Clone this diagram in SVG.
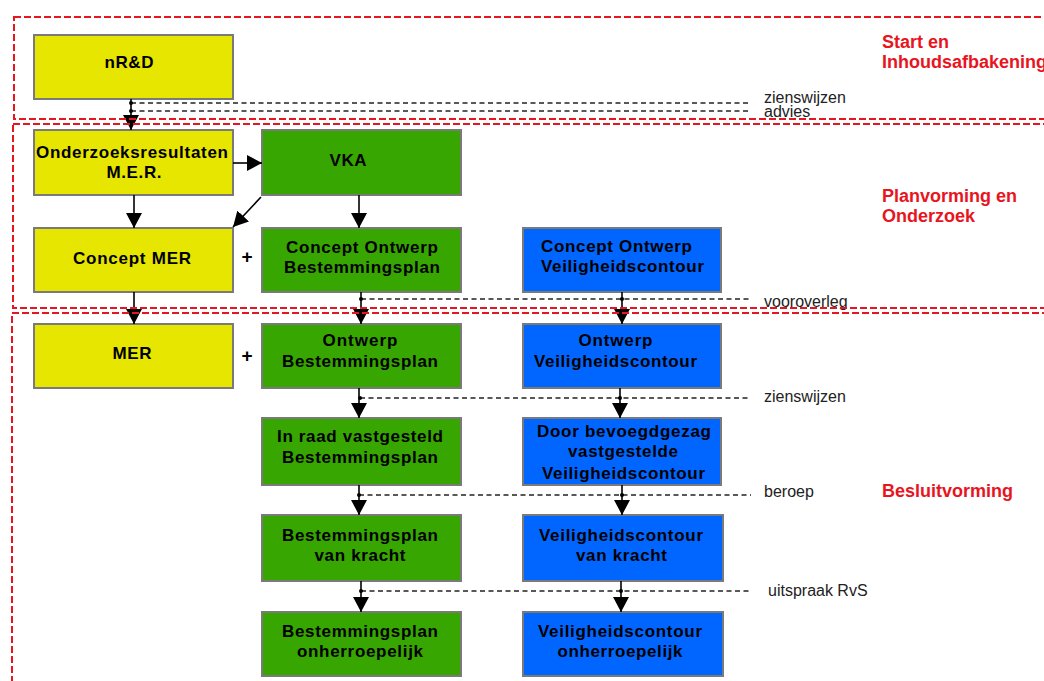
<svg xmlns="http://www.w3.org/2000/svg" width="1044" height="681" viewBox="0 0 1044 681">
<style>
.y{fill:#E6E600;stroke:#7a7a7a;stroke-width:2}
.g{fill:#37A600;stroke:#7a7a7a;stroke-width:2}
.b{fill:#0066FF;stroke:#7a7a7a;stroke-width:2}
.t{font-family:"Liberation Sans",Arial,sans-serif;font-weight:bold;font-size:17px;fill:#000;text-anchor:middle}
.lbl{font-family:"Liberation Sans",Arial,sans-serif;font-size:16px;fill:#222}
.sec{font-family:"Liberation Sans",Arial,sans-serif;font-weight:bold;font-size:18px;fill:#E8141E}
.arr{stroke:#000;stroke-width:1.6;fill:none;marker-end:url(#ah)}
.dsh{stroke:#222;stroke-width:1.3;stroke-dasharray:5,3.5;fill:none}
.red{fill:none;stroke:#E8141E;stroke-width:2;stroke-dasharray:7,3}
.dot{fill:#000}
</style>
<defs>
<marker id="ah" markerUnits="userSpaceOnUse" markerWidth="16" markerHeight="16" refX="15" refY="8" orient="auto">
<path d="M0,0 L15,8 L0,16 z" fill="#000"/>
</marker>
</defs>

<g id="n-nrd"><rect class="y" x="34" y="35" width="199" height="64"/><text class="t" x="129" y="68" textLength="49" lengthAdjust="spacing">nR&amp;D</text></g>
<g id="n-onderzoek"><rect class="y" x="34" y="130" width="199" height="65"/><text class="t" x="132" y="158" textLength="192" lengthAdjust="spacing">Onderzoeksresultaten</text><text class="t" x="134" y="178" textLength="55" lengthAdjust="spacing">M.E.R.</text></g>
<g id="n-vka"><rect class="g" x="262" y="130" width="199" height="65"/><text class="t" x="348" y="166" textLength="37" lengthAdjust="spacing">VKA</text></g>
<g id="n-cmer"><rect class="y" x="34" y="228" width="199" height="64"/><text class="t" x="132" y="264" textLength="118" lengthAdjust="spacing">Concept MER</text></g>
<g id="n-cobp"><rect class="g" x="262" y="228" width="199" height="64"/><text class="t" x="362" y="253" textLength="152" lengthAdjust="spacing">Concept Ontwerp</text><text class="t" x="362" y="273" textLength="156" lengthAdjust="spacing">Bestemmingsplan</text></g>
<g id="n-covc"><rect class="b" x="523" y="228" width="198" height="64"/><text class="t" x="541" y="252" style="text-anchor:start" textLength="151" lengthAdjust="spacing">Concept Ontwerp</text><text class="t" x="541" y="272" style="text-anchor:start" textLength="163" lengthAdjust="spacing">Veiligheidscontour</text></g>
<g id="n-mer"><rect class="y" x="34" y="324" width="199" height="64"/><text class="t" x="132" y="359" textLength="39" lengthAdjust="spacing">MER</text></g>
<g id="n-obp"><rect class="g" x="262" y="324" width="199" height="64"/><text class="t" x="360" y="346" textLength="75" lengthAdjust="spacing">Ontwerp</text><text class="t" x="360" y="367" textLength="156" lengthAdjust="spacing">Bestemmingsplan</text></g>
<g id="n-ovc"><rect class="b" x="523" y="324" width="198" height="64"/><text class="t" x="615.5" y="346" textLength="74" lengthAdjust="spacing">Ontwerp</text><text class="t" x="615.5" y="367" textLength="163" lengthAdjust="spacing">Veiligheidscontour</text></g>
<g id="n-irbp"><rect class="g" x="262" y="418" width="199" height="67"/><text class="t" x="360" y="442" textLength="166" lengthAdjust="spacing">In raad vastgesteld</text><text class="t" x="360" y="463" textLength="156" lengthAdjust="spacing">Bestemmingsplan</text></g>
<g id="n-dbvc"><rect class="b" x="523" y="418" width="198" height="67"/><text class="t" x="624" y="437" textLength="174" lengthAdjust="spacing">Door bevoegdgezag</text><text class="t" x="623" y="457" textLength="110" lengthAdjust="spacing">vastgestelde</text><text class="t" x="623.5" y="479" textLength="163" lengthAdjust="spacing">Veiligheidscontour</text></g>
<g id="n-bpvk"><rect class="g" x="262" y="515" width="199" height="66"/><text class="t" x="360" y="541" textLength="156" lengthAdjust="spacing">Bestemmingsplan</text><text class="t" x="360" y="561" textLength="91" lengthAdjust="spacing">van kracht</text></g>
<g id="n-vcvk"><rect class="b" x="523" y="515" width="200" height="66"/><text class="t" x="621" y="541" textLength="164" lengthAdjust="spacing">Veiligheidscontour</text><text class="t" x="621.5" y="561" textLength="91" lengthAdjust="spacing">van kracht</text></g>
<g id="n-bpoh"><rect class="g" x="262" y="612" width="199" height="64"/><text class="t" x="360" y="637" textLength="156" lengthAdjust="spacing">Bestemmingsplan</text><text class="t" x="360" y="657" textLength="126" lengthAdjust="spacing">onherroepelijk</text></g>
<g id="n-vcoh"><rect class="b" x="523" y="612" width="200" height="64"/><text class="t" x="620" y="637" textLength="164" lengthAdjust="spacing">Veiligheidscontour</text><text class="t" x="620" y="657" textLength="125" lengthAdjust="spacing">onherroepelijk</text></g>

<g id="plus">
<text class="t" x="247" y="263" style="font-size:19px">+</text>
<text class="t" x="247" y="362" style="font-size:19px">+</text>
</g>

<g id="connectors">
<path class="dsh" d="M131,103 H751 M131,111 H751"/>
<path class="dsh" d="M361,299 H751"/>
<path class="dsh" d="M360,398 H751"/>
<path class="dsh" d="M359,495 H751"/>
<path class="dsh" d="M361,591 H751"/>
<circle class="dot" cx="131" cy="103" r="2"/><circle class="dot" cx="131" cy="111" r="2"/>
<circle class="dot" cx="361" cy="299" r="2"/><circle class="dot" cx="622" cy="299" r="2"/>
<circle class="dot" cx="360" cy="398" r="2"/><circle class="dot" cx="620" cy="398" r="2"/>
<circle class="dot" cx="359" cy="495" r="2"/><circle class="dot" cx="622" cy="495" r="2"/>
<circle class="dot" cx="361" cy="591" r="2"/><circle class="dot" cx="621" cy="591" r="2"/>
<line class="arr" x1="131" y1="99" x2="131" y2="130"/>
<line class="arr" x1="233" y1="163" x2="262" y2="163"/>
<line class="arr" x1="134" y1="195" x2="134" y2="228"/>
<line class="arr" x1="261" y1="197" x2="233" y2="227"/>
<line class="arr" x1="359" y1="195" x2="359" y2="228"/>
<line class="arr" x1="134" y1="292" x2="134" y2="324"/>
<line class="arr" x1="361" y1="292" x2="361" y2="324"/>
<line class="arr" x1="622" y1="292" x2="622" y2="324"/>
<line class="arr" x1="359" y1="388" x2="359" y2="418"/>
<line class="arr" x1="620" y1="388" x2="620" y2="418"/>
<line class="arr" x1="359" y1="485" x2="359" y2="515"/>
<line class="arr" x1="622" y1="485" x2="622" y2="515"/>
<line class="arr" x1="361" y1="581" x2="361" y2="612"/>
<line class="arr" x1="621" y1="581" x2="621" y2="612"/>
</g>

<g id="labels">
<text class="lbl" x="764" y="103">zienswijzen</text>
<text class="lbl" x="764" y="117">advies</text>
<text class="lbl" x="764" y="307">vooroverleg</text>
<text class="lbl" x="764" y="402">zienswijzen</text>
<text class="lbl" x="764" y="497">beroep</text>
<text class="lbl" x="768" y="596">uitspraak RvS</text>
</g>

<g id="phases">
<rect class="red" x="14" y="17" width="1100" height="102"/>
<rect class="red" x="13" y="124" width="1100" height="184"/>
<rect class="red" x="12" y="313" width="1100" height="400"/>
<text class="sec" x="882" y="48">Start en</text>
<text class="sec" x="882" y="68">Inhoudsafbakening</text>
<text class="sec" x="882" y="202">Planvorming en</text>
<text class="sec" x="882" y="222">Onderzoek</text>
<text class="sec" x="882" y="497">Besluitvorming</text>
</g>
</svg>
